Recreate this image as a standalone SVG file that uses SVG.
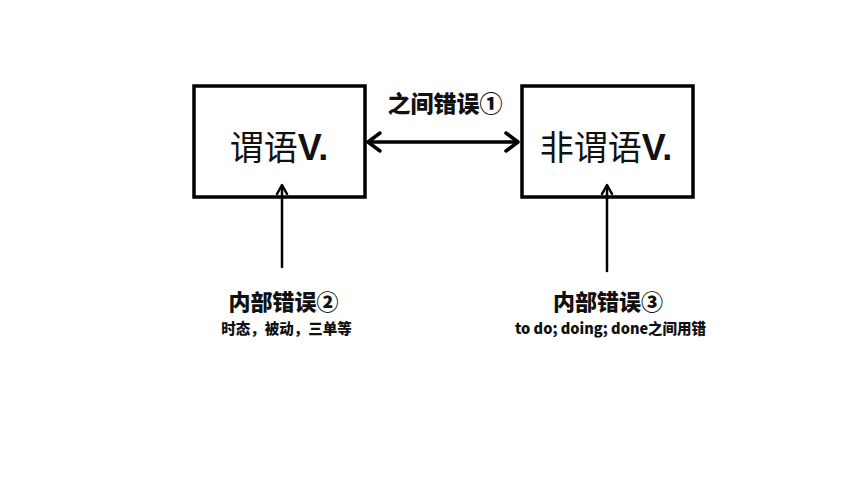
<svg xmlns="http://www.w3.org/2000/svg" width="860" height="484" viewBox="0 0 860 484">
<style>
.box{fill:#fff;stroke:#000;stroke-width:3.5}
.big{font-family:"Noto Sans CJK SC","Liberation Sans",sans-serif;font-size:34px;fill:#111}
.vb{font-family:"Liberation Sans",Arial,sans-serif;font-weight:bold;font-size:36px}
.lab{font-family:"Noto Sans CJK SC","Liberation Sans",sans-serif;font-weight:900;font-size:22px;fill:#111}
.sub{font-family:"Noto Sans CJK SC","Liberation Sans",sans-serif;font-weight:900;font-size:14.5px;fill:#111}
.ln{stroke:#000;fill:none;stroke-linecap:round;stroke-linejoin:round}
</style>
<rect width="860" height="484" fill="#fff"/>
<g id="node-predicate">
<rect class="box" x="194" y="86" width="171" height="111"/>
<text class="big" x="279" y="160" text-anchor="middle">谓语<tspan class="vb">V.</tspan></text>
</g>
<g id="node-nonpredicate">
<rect class="box" x="522" y="86" width="171" height="111"/>
<text class="big" x="606" y="160" text-anchor="middle">非谓语<tspan class="vb">V.</tspan></text>
</g>
<g id="connectors">
<line class="ln" x1="369" y1="142" x2="517" y2="142" stroke-width="3.5"/>
<polyline class="ln" points="380,133 368,142 380,151" stroke-width="3.5"/>
<polyline class="ln" points="506,133 518,142 506,151" stroke-width="3.5"/>
<line class="ln" x1="282" y1="186" x2="282" y2="267" stroke-width="2.5"/>
<polyline class="ln" points="277,194 282,185 287,194" stroke-width="2.5"/>
<line class="ln" x1="607" y1="186" x2="607" y2="271" stroke-width="2.5"/>
<polyline class="ln" points="602,194 607,185 612,194" stroke-width="2.5"/>
</g>
<g id="label-between">
<text class="lab" x="445" y="112" text-anchor="middle" style="font-size:23px">之间错误①</text>
</g>
<g id="label-internal-2">
<text class="lab" x="283.5" y="310" text-anchor="middle">内部错误②</text>
<text class="sub" x="286.5" y="333.5" text-anchor="middle">时态，被动，三单等</text>
</g>
<g id="label-internal-3">
<text class="lab" x="608" y="310" text-anchor="middle">内部错误③</text>
<text class="sub" x="610.5" y="333.5" text-anchor="middle">to do; doing; done之间用错</text>
</g>
</svg>
